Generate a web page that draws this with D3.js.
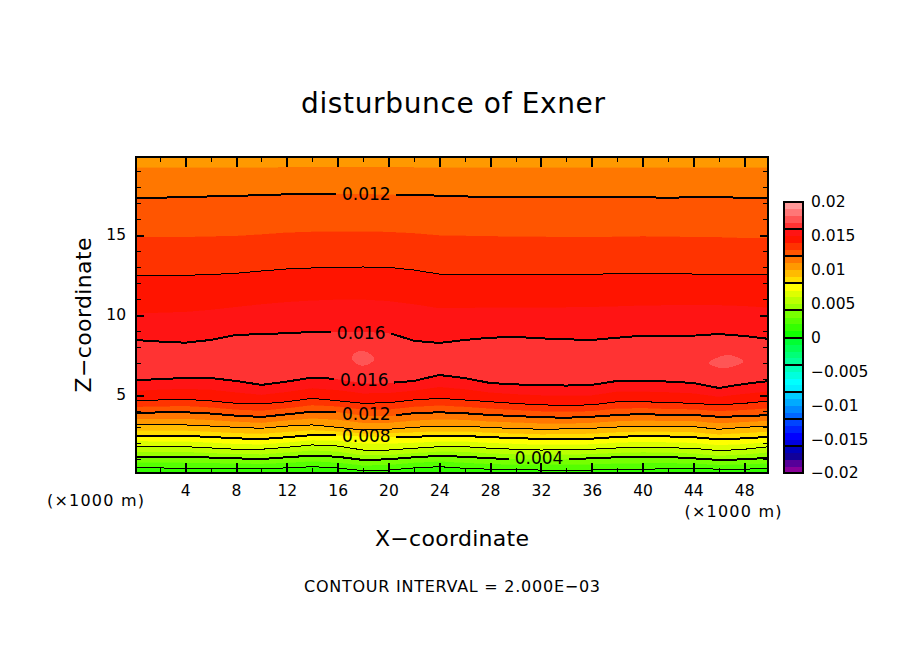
<!DOCTYPE html>
<html>
<head>
<meta charset="utf-8">
<script src="https://cdn.jsdelivr.net/npm/d3@7"></script>
<style>
  html, body { margin: 0; padding: 0; background: #fff; }
  svg { display: block; }
  text { font-family: "DejaVu Sans", sans-serif; fill: #000; }
</style>
</head>
<body>
<svg id="chart" width="904" height="654"></svg>
<script>
// stations along x (km), isoline heights z (km)
var xStations = [0,2,4,6,8,10,12,14,16,18,20,22,24,26,28,30,32,34,36,38,40,42,44,46,48,50];

var iso002 = [.46,.44,.42,.42,.42,.42,.44,.52,.44,.27,.31,.44,.52,.42,.36,.33,.31,.31,.31,.34,.36,.39,.42,.36,.36,.42];
var iso003 = [.79,.79,.78,.76,.73,.71,.78,.87,.79,.61,.65,.78,.86,.78,.70,.67,.66,.66,.68,.73,.75,.76,.73,.65,.67,.75];
var iso004 = [1.11,1.13,1.14,1.09,1.04,1.0,1.11,1.21,1.14,.94,.98,1.11,1.19,1.14,1.04,1.0,1.0,1.0,1.04,1.11,1.14,1.13,1.04,.94,.98,1.08];
var iso005 = [1.46,1.46,1.46,1.39,1.33,1.31,1.42,1.55,1.48,1.25,1.27,1.39,1.48,1.46,1.36,1.31,1.28,1.29,1.33,1.40,1.44,1.42,1.36,1.23,1.30,1.43];
var iso006 = [1.81,1.79,1.77,1.69,1.61,1.61,1.73,1.88,1.81,1.56,1.56,1.67,1.77,1.77,1.67,1.61,1.56,1.58,1.61,1.69,1.73,1.70,1.67,1.52,1.61,1.77];
var iso007 = [2.13,2.12,2.11,2.04,1.95,1.93,2.05,2.19,2.16,1.99,1.98,2.03,2.11,2.11,2.02,1.96,1.91,1.92,1.94,2.04,2.09,2.06,2.02,1.88,1.95,2.08];
var iso008 = [2.44,2.44,2.44,2.38,2.29,2.25,2.36,2.5,2.5,2.42,2.39,2.39,2.44,2.44,2.36,2.31,2.25,2.25,2.27,2.38,2.44,2.41,2.36,2.23,2.29,2.39];
var iso009 = [2.79,2.79,2.79,2.72,2.64,2.59,2.71,2.82,2.74,2.62,2.63,2.69,2.75,2.75,2.66,2.61,2.56,2.57,2.60,2.69,2.73,2.72,2.69,2.55,2.64,2.73];
var iso010 = [3.13,3.13,3.13,3.06,2.98,2.92,3.06,3.13,2.98,2.81,2.86,2.98,3.06,3.06,2.96,2.91,2.86,2.88,2.92,3.0,3.02,3.03,3.02,2.86,2.98,3.06];
var iso011 = [3.51,3.52,3.53,3.45,3.35,3.28,3.43,3.55,3.47,3.27,3.28,3.42,3.49,3.46,3.36,3.30,3.24,3.23,3.28,3.38,3.42,3.39,3.39,3.25,3.33,3.41];
var iso012 = [3.89,3.91,3.92,3.84,3.71,3.63,3.79,3.96,3.96,3.72,3.69,3.86,3.92,3.86,3.75,3.69,3.61,3.58,3.64,3.75,3.81,3.75,3.75,3.64,3.67,3.75];
var iso013 = [4.27,4.30,4.33,4.24,4.10,4.04,4.19,4.38,4.30,4.10,4.11,4.28,4.36,4.28,4.17,4.08,4.0,3.97,4.01,4.17,4.20,4.14,4.12,4.01,4.08,4.19];
var iso014 = [4.64,4.69,4.73,4.63,4.48,4.44,4.58,4.79,4.64,4.48,4.52,4.69,4.79,4.69,4.58,4.47,4.38,4.36,4.38,4.58,4.58,4.53,4.48,4.38,4.48,4.63];
var iso015 = [5.28,5.35,5.40,5.35,5.18,5.03,5.21,5.44,5.32,5.12,5.14,5.29,5.52,5.38,5.17,5.07,5.0,4.98,5.0,5.23,5.23,5.19,5.12,4.91,5.09,5.25];
var iso016 = [5.91,6.0,6.06,6.06,5.88,5.63,5.84,6.09,6.0,5.75,5.75,5.88,6.25,6.06,5.75,5.66,5.63,5.59,5.63,5.88,5.88,5.84,5.75,5.44,5.69,5.88];
var iso016up = [8.44,8.34,8.27,8.44,8.75,8.81,8.86,8.94,8.96,8.97,8.89,8.39,8.25,8.44,8.58,8.63,8.54,8.48,8.44,8.58,8.71,8.71,8.71,8.81,8.69,8.5];
var iso015up = [10.11,10.16,10.21,10.34,10.52,10.69,10.83,10.92,10.98,10.98,10.89,10.69,10.44,10.46,10.48,10.48,10.48,10.5,10.52,10.56,10.61,10.63,10.63,10.63,10.58,10.47];
var iso014up = [12.48,12.48,12.48,12.53,12.61,12.75,12.88,12.94,12.98,13.0,12.98,12.81,12.56,12.56,12.56,12.56,12.54,12.54,12.54,12.59,12.61,12.61,12.56,12.53,12.52,12.5];
var iso013up = [14.89,14.89,14.89,14.93,14.96,15.06,15.17,15.22,15.25,15.25,15.21,15.13,15.0,14.97,14.94,14.93,14.91,14.89,14.89,14.91,14.94,14.92,14.89,14.88,14.83,14.81];
var iso012up = [17.31,17.33,17.38,17.41,17.44,17.5,17.54,17.56,17.58,17.58,17.54,17.5,17.46,17.41,17.38,17.38,17.38,17.38,17.38,17.38,17.36,17.33,17.36,17.36,17.33,17.31];
var iso011up = [19.23,19.23,19.23,19.23,19.23,19.23,19.26,19.26,19.26,19.26,19.26,19.25,19.23,19.23,19.23,19.23,19.22,19.22,19.22,19.22,19.22,19.22,19.22,19.22,19.22,19.22];

// closed patches above 0.017, [x km, z km]
var patch017a = [[17.1,7.3],[17.4,7.65],[18.0,7.75],[18.6,7.55],[18.9,7.25],[18.5,6.95],[17.9,6.82],[17.4,7.0]];
var patch017b = [[45.2,7.02],[45.8,7.3],[46.6,7.5],[47.4,7.38],[47.95,7.08],[47.2,6.8],[46.4,6.67],[45.7,6.78]];

// 40 colours of the bar, lowest first, 0.001 wide each
var barColors = [
  '#880099','#550099','#110099','#0000bb',
  '#0000dd','#0000ff','#0022ff','#0044ff',
  '#0066ff','#0088ff','#00aaff','#00ccff',
  '#00eeff','#00ffff','#00ffdd','#00ffbb',
  '#00ff99','#00ff77','#00ff55','#00ff33',
  '#11ff00','#33ff00','#55ff00','#77ff00',
  '#99ff00','#bbff00','#ddff00','#ffff00',
  '#ffdd00','#ffbb00','#ff9900','#ff7700',
  '#ff5500','#ff3300','#ff1400','#ff1414',
  '#ff3333','#ff5555','#ff7777','#ff9999'
];
var barTickValues = [0.02,0.015,0.01,0.005,0,-0.005,-0.01,-0.015,-0.02];
var barTickLabels = ['0.02','0.015','0.01','0.005','0','\u22120.005','\u22120.01','\u22120.015','\u22120.02'];
var barDividers = [0.016,0.012,0.008,0.004,0,-0.004,-0.008,-0.012,-0.016];

var xMajorTicks = [4,8,12,16,20,24,28,32,36,40,44,48];
var xMinorTicks = [2,6,10,14,18,22,26,30,34,38,42,46];
var zMajorTicks = [5,10,15];
var zMinorTicks = [1,2,3,4,6,7,8,9,11,12,13,14,16,17,18,19];

// stack of bands from bottom to top: lower level of each band and the isoline on its top
var bandLevels = [.001,.002,.003,.004,.005,.006,.007,.008,.009,.010,.011,.012,.013,.014,.015,.016,.015,.014,.013,.012,.011,.010];
var bandTops = [iso002,iso003,iso004,iso005,iso006,iso007,iso008,iso009,iso010,iso011,iso012,iso013,iso014,iso015,iso016,
  iso016up,iso015up,iso014up,iso013up,iso012up,iso011up];

var thickLines = [iso004,iso008,iso012,iso016,iso016up,iso012up];
var thinLines = [iso002,iso006,iso010,iso014,iso014up];

var labelTexts = ['0.012','0.016','0.016','0.012','0.008','0.004'];
var labelLines = [iso012up,iso016up,iso016,iso012,iso008,iso004];
var labelX = [18.25,17.85,18.1,18.25,18.25,31.85];
var labelZ = [17.56,8.88,5.94,3.81,2.44,1.06];

var svg = d3.select('#chart');
var plotL = 136, plotR = 768, plotT = 157, plotB = 473;

var x = d3.scaleLinear().domain([0.125,49.875]).range([plotL,plotR]);
var z = d3.scaleLinear().domain([0.125,19.875]).range([plotB,plotT]);
var barY = d3.scaleLinear().domain([-0.02,0.02]).range([473,202]);

function colorOf(level) {
  return barColors[Math.round((level + 0.02) / 0.001)];
}

svg.append('clipPath').attr('id','plotClip')
  .append('rect').attr('x',plotL).attr('y',plotT).attr('width',plotR-plotL).attr('height',plotB-plotT);

var plot = svg.append('g').attr('clip-path','url(#plotClip)');

// filled bands
var floorZ = xStations.map(function(){ return 0; });
var ceilZ = xStations.map(function(){ return 20; });
var bottoms = [floorZ].concat(bandTops);
var tops = bandTops.concat([ceilZ]);

var area = d3.area()
  .x(function(d){ return x(d.x); })
  .y0(function(d){ return z(d.lo); })
  .y1(function(d){ return z(d.hi); });

bandLevels.forEach(function(level,i){
  var pts = xStations.map(function(xs,j){ return {x:xs, lo:bottoms[i][j], hi:tops[i][j]}; });
  plot.append('path').datum(pts)
    .attr('d',area)
    .attr('fill',colorOf(level))
    .attr('stroke',colorOf(level))
    .attr('stroke-width',0.6)
    .attr('shape-rendering','crispEdges');
});

var patchLine = d3.line()
  .x(function(d){ return x(d[0]); })
  .y(function(d){ return z(d[1]); })
  .curve(d3.curveCardinalClosed);

[patch017a,patch017b].forEach(function(p){
  plot.append('path').datum(p).attr('d',patchLine).attr('fill',colorOf(0.017)).attr('shape-rendering','crispEdges');
});

// isolines, with a gap where a label sits
var gapHalf = 30;
var line = d3.line()
  .x(function(d){ return x(d[0]); })
  .y(function(d){ return z(d[1]); });

function drawIso(vals,width) {
  var pts = xStations.map(function(xs,j){ return [xs,vals[j]]; });
  var interp = d3.scaleLinear().domain(xStations).range(vals);
  var li = labelLines.indexOf(vals);
  var segs = [pts];
  if (li >= 0) {
    var ka = x.invert(x(labelX[li]) - gapHalf);
    var kb = x.invert(x(labelX[li]) + gapHalf);
    segs = [
      pts.filter(function(p){ return p[0] < ka; }).concat([[ka,interp(ka)]]),
      [[kb,interp(kb)]].concat(pts.filter(function(p){ return p[0] > kb; }))
    ];
  }
  segs.forEach(function(s){
    plot.append('path').datum(s)
      .attr('d',line)
      .attr('fill','none')
      .attr('stroke','#000')
      .attr('stroke-width',width)
      .attr('shape-rendering','crispEdges');
  });
}
thinLines.forEach(function(v){ drawIso(v,1); });
thickLines.forEach(function(v){ drawIso(v,2); });

// contour labels
labelTexts.forEach(function(t,i){
  svg.append('text')
    .attr('x',x(labelX[i]))
    .attr('y',z(labelZ[i]))
    .attr('dy','0.36em')
    .attr('text-anchor','middle')
    .attr('font-size',17)
    .text(t);
});

// axes: major and minor ticks on all four sides, all pointing inward
function styleAxis(g,w) {
  g.select('.domain').remove();
  g.selectAll('line').attr('stroke','#000').attr('stroke-width',w).attr('shape-rendering','crispEdges');
  g.selectAll('text').attr('font-size',15.5).attr('font-family','"DejaVu Sans", sans-serif').attr('fill','#000');
}

svg.append('g').attr('transform','translate(0,'+plotB+')')
  .call(d3.axisBottom(x).tickValues(xMajorTicks).tickSize(-10).tickPadding(12).tickFormat(d3.format('d')))
  .call(styleAxis,2);
svg.append('g').attr('transform','translate(0,'+plotB+')')
  .call(d3.axisBottom(x).tickValues(xMinorTicks).tickSize(-5).tickFormat(''))
  .call(styleAxis,1);
svg.append('g').attr('transform','translate(0,'+plotT+')')
  .call(d3.axisTop(x).tickValues(xMajorTicks).tickSize(-10).tickFormat(''))
  .call(styleAxis,2);
svg.append('g').attr('transform','translate(0,'+plotT+')')
  .call(d3.axisTop(x).tickValues(xMinorTicks).tickSize(-5).tickFormat(''))
  .call(styleAxis,1);
svg.append('g').attr('transform','translate('+plotL+',0)')
  .call(d3.axisLeft(z).tickValues(zMajorTicks).tickSize(-8).tickPadding(10).tickFormat(d3.format('d')))
  .call(styleAxis,2);
svg.append('g').attr('transform','translate('+plotL+',0)')
  .call(d3.axisLeft(z).tickValues(zMinorTicks).tickSize(-5).tickFormat(''))
  .call(styleAxis,1);
svg.append('g').attr('transform','translate('+plotR+',0)')
  .call(d3.axisRight(z).tickValues(zMajorTicks).tickSize(-8).tickFormat(''))
  .call(styleAxis,2);
svg.append('g').attr('transform','translate('+plotR+',0)')
  .call(d3.axisRight(z).tickValues(zMinorTicks).tickSize(-5).tickFormat(''))
  .call(styleAxis,1);

svg.append('rect')
  .attr('x',plotL).attr('y',plotT).attr('width',plotR-plotL).attr('height',plotB-plotT)
  .attr('fill','none').attr('stroke','#000').attr('stroke-width',2).attr('shape-rendering','crispEdges');

// colour bar
var barL = 784, barW = 19;
barColors.forEach(function(c,i){
  var lo = -0.02 + i*0.001;
  svg.append('rect')
    .attr('x',barL)
    .attr('y',barY(lo+0.001))
    .attr('width',barW)
    .attr('height',barY(lo)-barY(lo+0.001)+0.5)
    .attr('fill',c)
    .attr('shape-rendering','crispEdges');
});
barDividers.forEach(function(v){
  svg.append('line')
    .attr('x1',barL).attr('x2',barL+barW)
    .attr('y1',barY(v)).attr('y2',barY(v))
    .attr('stroke','#000').attr('stroke-width',2).attr('shape-rendering','crispEdges');
});
svg.append('rect')
  .attr('x',barL).attr('y',barY(0.02)).attr('width',barW).attr('height',barY(-0.02)-barY(0.02))
  .attr('fill','none').attr('stroke','#000').attr('stroke-width',2).attr('shape-rendering','crispEdges');

svg.append('g').attr('transform','translate('+(barL+barW)+',0)')
  .call(d3.axisRight(barY).tickValues(barTickValues).tickSize(0).tickPadding(8)
    .tickFormat(function(d,i){ return barTickLabels[i]; }))
  .call(styleAxis,1);

// titles
function label(t,px,py,size,len,rot) {
  var el = svg.append('text')
    .attr('font-size',size)
    .attr('text-anchor','middle')
    .attr('textLength',len)
    .attr('lengthAdjust','spacing')
    .text(t);
  if (rot) el.attr('transform','translate('+px+','+py+') rotate(-90)');
  else el.attr('x',px).attr('y',py);
}
label('disturbunce of Exner',453,113,28,304);
label('X\u2212coordinate',452,546,22,154);
label('Z\u2212coordinate',91,315,22,155,true);
label('(\u00d71000 m)',95.5,506,16,97);
label('(\u00d71000 m)',733,517,16,97);
label('CONTOUR INTERVAL = 2.000E\u221203',452,592,16,296);
</script>
</body>
</html>
